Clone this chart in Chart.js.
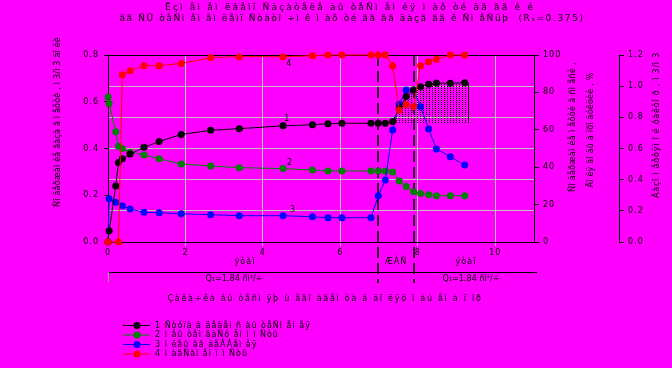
<!DOCTYPE html>
<html><head><meta charset="utf-8">
<script src="https://cdn.jsdelivr.net/npm/chart.js@4"></script>
<style>html,body{margin:0;padding:0;background:#ff00ff;overflow:hidden}canvas{display:block}</style>
</head><body>
<canvas id="c" width="672" height="368"></canvas>
<script>
// ---- data ----
const xValues = [0, 0.03, 0.2, 0.27, 0.37, 0.57, 0.93, 1.32, 1.89, 2.65, 3.39, 4.52, 5.28, 5.68, 6.04, 6.79, 6.98, 7.16, 7.35, 7.52, 7.70, 7.89, 8.07, 8.28, 8.48, 8.84, 9.21];
const series1 = [0, 0.048, 0.24, 0.34, 0.356, 0.376, 0.405, 0.43, 0.46, 0.478, 0.485, 0.497, 0.502, 0.506, 0.508, 0.508, 0.508, 0.508, 0.516, 0.572, 0.622, 0.65, 0.664, 0.675, 0.68, 0.679, 0.681];
const series2 = [0.62, 0.593, 0.472, 0.41, 0.40, 0.384, 0.372, 0.356, 0.334, 0.325, 0.318, 0.314, 0.308, 0.304, 0.304, 0.304, 0.304, 0.304, 0.299, 0.261, 0.237, 0.215, 0.208, 0.202, 0.198, 0.198, 0.198];
const series3 = [0, 0.185, 0.17, null, 0.155, 0.141, 0.127, 0.125, 0.121, 0.117, 0.1125, 0.1125, 0.108, 0.104, 0.104, 0.104, 0.198, 0.265, 0.479, 0.589, 0.65, 0.65, 0.579, 0.483, 0.398, 0.365, 0.329];
const series4 = [0, null, null, 0, 89.5, 91.6, 94.3, 94.3, 95.5, 98.6, 99.1, 99.1, 99.6, 100, 100, 100, 100, 100, 94.3, 70.4, 73.5, 72.4, 94.3, 96.4, 97.7, 100, 100];
const xTicks = [0, 2, 4, 6, 8, 10];
const stageBounds = [6.96, 7.91];
const hatchStart = 7.16, hatchEnd = 9.3, hatchBase = 0.508;

const legendLabels = [
  "1 Ñòóïà â äåàåì ñ àû òåÑì åì åÿ",
  "2 ì åû òåì ãàÑó åì ì ì Ñòû",
  "3 ì ëåû ãã äåÂÂåì åÿ",
  "4 ì àãÑàì åì ì ì Ñòû"
];
const titleLines = [
  "Ёçì åì åì ëâåìï Ñàçàòåëå àû òåÑì åì éÿ ì àô òé âã ãã ê é",
  "ãã ÑÜ òåÑì åì åì ëåìï Ñòàòî ÷ì ê ì àô òé ãã ãã äàçã ãã ê Ñì åÑüþ  (Rₛ=0.375)"
];
const xTitle = "Çàêà÷êà âû òåñì ÿþ ù åãî àãåì òà â äî ëÿõ î áú åì à ï îð";
const yTitle = "Ñî äåðæàì èå ãàçà â ì åôòè , ì 3/ì 3 äî ëè";
const y2Title = ["Ñî äåðæàì èå ì åôòè â ñì åñè ,", "Äî ëÿ âî äû â ïðî äóêöèè , %"];
const y3Title = "Ãàçî ì åôòÿì î é ôàêòî ð , ì 3/ì 3";
const stageLabels = ["ýòàï", "ÆÀÑ", "ýòàï"];
const rateLabel = "Q₁=1.84 ñì³/÷";
const curveLabels = ["1", "2", "3", "4"];

const colors = ["#000000", "#008000", "#0000ff", "#ff0000"];
const FONT = "'DejaVu Sans', sans-serif";

function pts(ys) { return xValues.map((x, i) => ({x, y: ys[i]})).filter(p => p.y !== null); }
const hatchPts = xValues.map((x, i) => ({x, y: series1[i]})).filter(p => p.x >= hatchStart);
hatchPts.push({x: hatchEnd, y: series1[series1.length - 1]});

const pc = document.createElement('canvas'); pc.width = 3; pc.height = 2;
const pctx = pc.getContext('2d'); pctx.fillStyle = '#000'; pctx.fillRect(0, 0, 1, 1);
const hatchPattern = pctx.createPattern(pc, 'repeat');

function ds(i, ys, axis, order) {
  return {label: legendLabels[i], data: pts(ys), yAxisID: axis, borderColor: colors[i], backgroundColor: colors[i],
    pointBackgroundColor: colors[i], pointBorderColor: colors[i], pointRadius: 3.5, pointBorderWidth: 0,
    borderWidth: 1, tension: 0, fill: false, order, clip: false};
}

function txt(ctx, s, x, y, size, o = {}) {
  ctx.save();
  ctx.font = size + 'px ' + FONT;
  ctx.fillStyle = '#000';
  ctx.textBaseline = 'middle';
  ctx.textAlign = 'left';
  let ls = o.ls ?? 1;
  if (o.width) { ctx.letterSpacing = '0px'; const w0 = ctx.measureText(s).width; ls = (o.width - w0) / Math.max(1, [...s].length); }
  ctx.letterSpacing = ls + 'px';
  const w = ctx.measureText(s).width;
  ctx.translate(x, y);
  if (o.rot) ctx.rotate(o.rot);
  ctx.fillText(s, o.align === 'left' ? 0 : -w / 2, 0);
  ctx.restore();
}

const overlay = {
  id: 'overlay',
  afterInit(chart) { chart.ctx.letterSpacing = '1px'; },
  beforeDatasetsDraw(chart) {
    const {ctx, chartArea: a, scales} = chart;
    ctx.save();
    ctx.strokeStyle = '#000'; ctx.lineWidth = 1;
    ctx.beginPath(); ctx.moveTo(a.left, a.top + 0.5); ctx.lineTo(a.right, a.top + 0.5); ctx.stroke();
    ctx.beginPath(); ctx.moveTo(a.left, 272.5); ctx.lineTo(a.right + 3, 272.5); ctx.stroke();
    ctx.strokeStyle = '#999';
    ctx.beginPath(); ctx.moveTo(a.left + 0.5, 272); ctx.lineTo(a.left + 0.5, 282); ctx.stroke();
    ctx.strokeStyle = '#000'; ctx.lineWidth = 1.6; ctx.setLineDash([11, 5]);
    stageBounds.forEach(v => {
      const px = Math.round(scales.x.getPixelForValue(v));
      ctx.beginPath(); ctx.moveTo(px, a.top); ctx.lineTo(px, 283); ctx.stroke();
    });
    ctx.restore();
  },
  afterDatasetsDraw(chart) {
    const {ctx, scales} = chart;
    ctx.save();
    ctx.strokeStyle = '#000'; ctx.lineWidth = 1;
    const px = Math.round(scales.x.getPixelForValue(hatchEnd)) + 0.5;
    ctx.beginPath();
    ctx.moveTo(px, scales.y.getPixelForValue(hatchBase));
    ctx.lineTo(px, scales.y.getPixelForValue(series1[series1.length - 1]));
    ctx.stroke();
    ctx.restore();
  },
  afterDraw(chart) {
    const {ctx, scales} = chart;
    txt(ctx, titleLines[0], 350, 8, 9, {width: 370});
    txt(ctx, titleLines[1], 352, 19, 9, {width: 465});
    txt(ctx, yTitle, 58, 122, 8, {rot: -Math.PI / 2, width: 170});
    txt(ctx, y2Title[0], 573, 127, 8, {rot: -Math.PI / 2, width: 130});
    txt(ctx, y2Title[1], 591, 130, 8, {rot: -Math.PI / 2, width: 115});
    txt(ctx, y3Title, 657, 125, 8, {rot: -Math.PI / 2, width: 146});
    const cl = [[4.63, 0.526], [4.70, 0.338], [4.78, 0.137], [4.68, 0.761]];
    curveLabels.forEach((t, i) => txt(ctx, t, scales.x.getPixelForValue(cl[i][0]), scales.y.getPixelForValue(cl[i][1]), 8));
    txt(ctx, stageLabels[0], 245, 262, 8);
    txt(ctx, stageLabels[1], 396, 262, 8);
    txt(ctx, stageLabels[2], 466, 262, 8);
    txt(ctx, rateLabel, 234, 279, 8, {width: 57});
    txt(ctx, rateLabel, 471, 279, 8, {width: 57});
    txt(ctx, xTitle, 325, 299, 8, {width: 315});
    const rows = [325.5, 335, 344.5, 354];
    rows.forEach((y, i) => {
      ctx.save();
      ctx.strokeStyle = colors[i]; ctx.fillStyle = colors[i]; ctx.lineWidth = 1;
      ctx.beginPath(); ctx.moveTo(123, y); ctx.lineTo(150, y); ctx.stroke();
      ctx.beginPath(); ctx.arc(137, y, 3.5, 0, Math.PI * 2); ctx.fill();
      ctx.restore();
      txt(ctx, legendLabels[i], 155, y, 8, {align: 'left'});
    });
  }
};

const tickFont = {family: 'DejaVu Sans', size: 8};
const chart = new Chart(document.getElementById('c'), {
  type: 'line',
  data: {datasets: [
    ds(3, series4, 'y2', 1),
    ds(0, series1, 'y', 2),
    ds(2, series3, 'y', 3),
    ds(1, series2, 'y', 4),
    {label: 'hatch', data: hatchPts, yAxisID: 'y', borderColor: 'rgba(0,0,0,0)', backgroundColor: hatchPattern,
      pointRadius: 0, borderWidth: 1, fill: {value: hatchBase}, order: 10}
  ]},
  options: {
    responsive: false, animation: false, devicePixelRatio: 1,
    layout: {padding: {top: 55, left: 0, right: 0, bottom: 0}},
    plugins: {legend: {display: false}, title: {display: false}, tooltip: {enabled: false}},
    scales: {
      x: {type: 'linear', min: 0, max: 11,
        afterBuildTicks: s => { s.ticks = xTicks.map(v => ({value: v})); },
        ticks: {color: '#000', font: tickFont, padding: 2, maxRotation: 0, autoSkip: false},
        grid: {color: '#c0c0c0', tickColor: '#c0c0c0', tickLength: 4},
        border: {color: '#000', width: 1},
        afterFit: s => { s.height = 368 - 242; }},
      y: {position: 'left', min: 0, max: 0.8,
        ticks: {stepSize: 0.2, color: '#000', font: tickFont, padding: 5, callback: v => v.toFixed(1)},
        grid: {drawOnChartArea: false, tickColor: '#000', tickLength: 4},
        border: {color: '#000', width: 1},
        afterFit: s => { s.width = 108; }},
      y2: {position: 'right', weight: 1, min: 0, max: 100,
        ticks: {stepSize: 20, color: '#000', font: tickFont, padding: 4},
        grid: {drawOnChartArea: false, tickColor: '#000', tickLength: 5},
        border: {color: '#000', width: 1},
        afterFit: s => { s.width = 85; }},
      y3: {position: 'right', weight: 2, min: 0, max: 1.2,
        ticks: {stepSize: 0.2, color: '#000', font: tickFont, padding: 4, callback: v => v.toFixed(1)},
        grid: {drawOnChartArea: true, color: '#c0c0c0', tickColor: '#000', tickLength: 5},
        border: {color: '#000', width: 1},
        afterFit: s => { s.width = 53; }}
    }
  },
  plugins: [overlay]
});
</script>
</body></html>
